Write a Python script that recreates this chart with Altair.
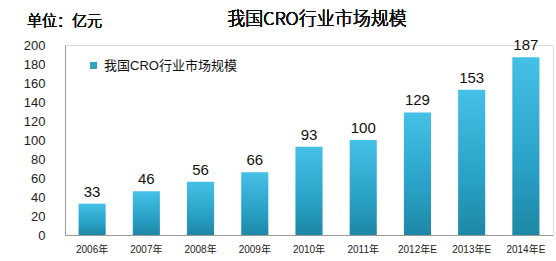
import altair as alt
import pandas as pd

years = ["2006年", "2007年", "2008年", "2009年", "2010年", "2011年", "2012年E", "2013年E", "2014年E"]
values = [33, 46, 56, 66, 93, 100, 129, 153, 187]
series_name = "我国CRO行业市场规模"
unit_label = "单位：亿元"
y_ticks = [0, 20, 40, 60, 80, 100, 120, 140, 160, 180, 200]

df = pd.DataFrame({"year": years, "value": values, "series": [series_name] * len(years)})

FONT = "Liberation Sans, Noto Sans CJK SC, sans-serif"
LIGHT = "Noto Sans CJK SC Light, Noto Sans CJK SC DemiLight, Noto Sans CJK SC, sans-serif"

x_enc = alt.X("year:N", sort=years, title=None,
              scale=alt.Scale(paddingInner=0.5, paddingOuter=0.25),
              axis=alt.Axis(labelAngle=0, ticks=False, domainColor="#9a9a9a",
                            labelFontSize=10, labelColor="#222", labelPadding=9,
                            labelFont=FONT, labelOverlap=False))
y_enc = alt.Y("value:Q", title=None,
              scale=alt.Scale(domain=[0, 200], nice=False),
              axis=alt.Axis(values=y_ticks, grid=False, ticks=False, domainColor="#9a9a9a",
                            labelFontSize=13, labelColor="#222", labelPadding=20,
                            labelFont=FONT, labelOverlap=False, labelBound=False))

grad = alt.Gradient(
    gradient="linear",
    stops=[alt.GradientStop(color="#45c0e6", offset=0),
           alt.GradientStop(color="#2aa2c8", offset=0.6),
           alt.GradientStop(color="#1d87a5", offset=1)],
    x1=1, x2=1, y1=0, y2=1,
)

bars = alt.Chart(df).mark_bar(fill=grad).encode(x=x_enc, y=y_enc)

labels = alt.Chart(df).mark_text(dy=-12, fontSize=15, color="#111", font=FONT).encode(
    x=x_enc, y=y_enc, text="value:Q")

legend_layer = alt.Chart(df).mark_point(filled=True, opacity=0, shape="square").encode(
    x=x_enc, y=y_enc,
    color=alt.Color("series:N", title=None,
                    scale=alt.Scale(range=["#34a3c0"]),
                    legend=alt.Legend(orient="none", legendX=22, legendY=14,
                                      symbolType="square", symbolSize=50, symbolOpacity=1,
                                      labelFontSize=13, labelColor="#111", labelFont=FONT,
                                      labelLimit=300)))

unit = alt.Chart(df).mark_text(align="left", baseline="middle", fontSize=15, color="#111",
                                fontWeight=300, font=LIGHT).encode(
    x=alt.value(-38), y=alt.value(-24), text=alt.value(unit_label))

title = alt.Chart(df).mark_text(align="center", baseline="middle", fontSize=18, color="#111",
                                 fontWeight=300, font=LIGHT).encode(
    x=alt.value(252), y=alt.value(-25), text=alt.value(series_name))

chart = alt.layer(bars, labels, legend_layer, unit, title).properties(
    width=488, height=190,
    autosize=alt.AutoSizeParams(type="none"),
    padding={"left": 65, "top": 45, "right": 3, "bottom": 26},
).configure_view(stroke=None).configure(background="white")

chart.save("out.html", embed_options={"renderer": "svg", "actions": False})
